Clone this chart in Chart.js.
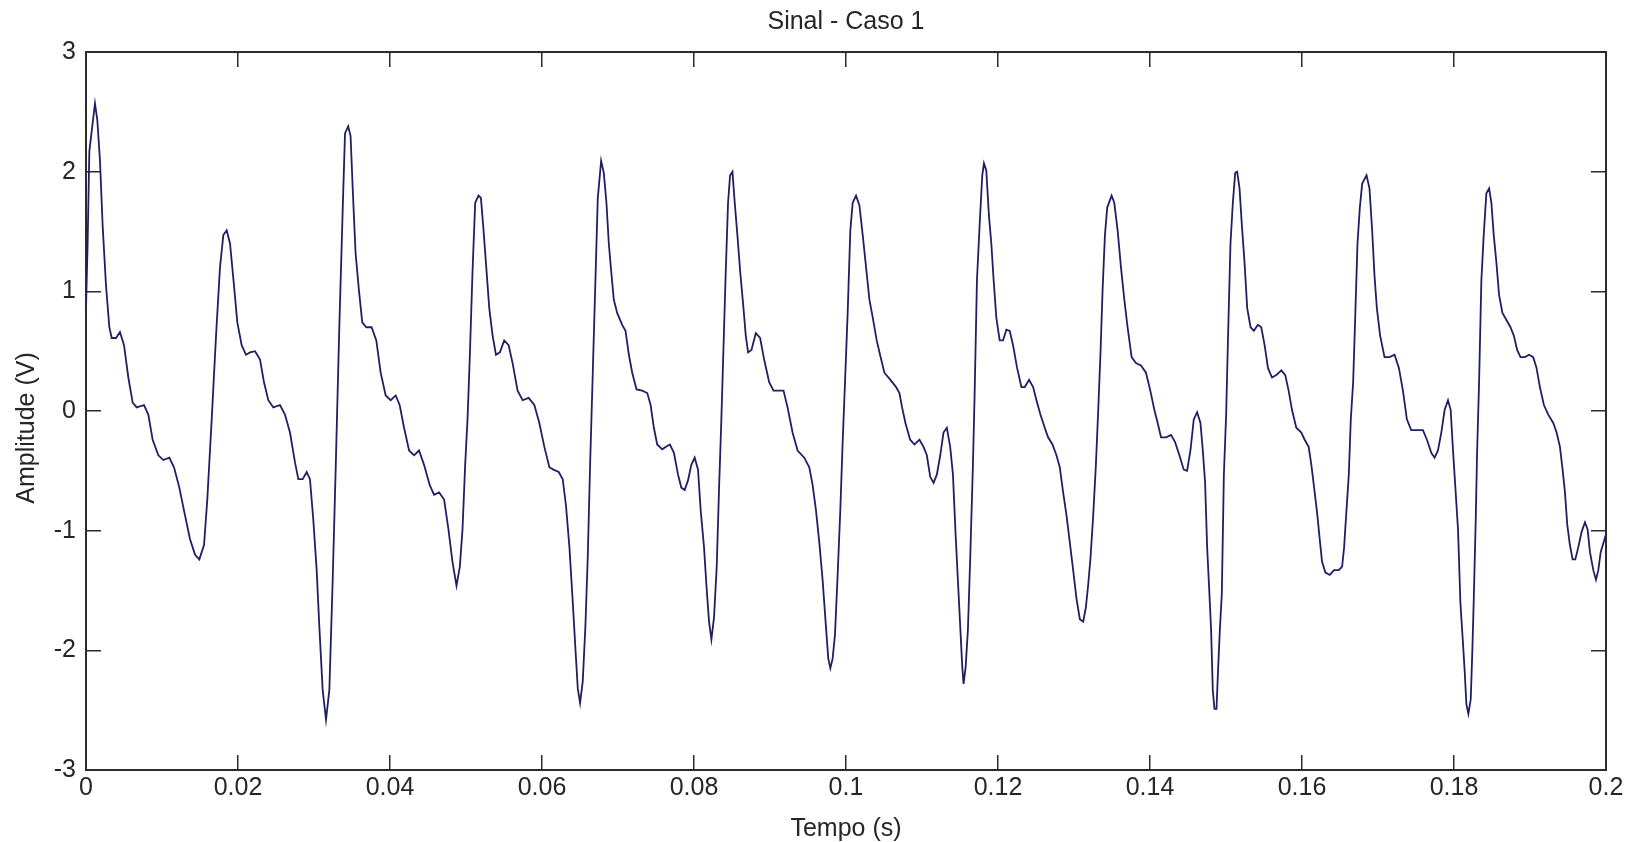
<!DOCTYPE html>
<html>
<head>
<meta charset="utf-8">
<title>Sinal - Caso 1</title>
<script src="https://cdn.jsdelivr.net/npm/chart.js@4.4.0/dist/chart.umd.min.js"></script>
<style>
  html, body { margin: 0; padding: 0; background: #fff; }
  canvas { display: block; }
</style>
</head>
<body>
<canvas id="grafico" width="1632" height="842"></canvas>
<script>
/* ================= DADOS ================= */
const titulo = "Sinal - Caso 1";
const rotuloX = "Tempo (s)";
const rotuloY = "Amplitude (V)";

const tempo = [
  0, 0.0002, 0.00044, 0.00118, 0.00149, 0.00184, 0.00219, 0.00263, 0.00307, 0.00338,
  0.00395, 0.00447, 0.005, 0.00557, 0.00614, 0.00667, 0.00763, 0.0082, 0.00877, 0.00952,
  0.01018, 0.01096, 0.01158, 0.01228, 0.01302, 0.01368, 0.01434, 0.01491, 0.01553, 0.01596,
  0.01654, 0.01711, 0.01763, 0.01807, 0.01851, 0.01895, 0.01947, 0.01991, 0.02048, 0.02105,
  0.02158, 0.02224, 0.0229, 0.02342, 0.02399, 0.02465, 0.02553, 0.02618, 0.02684, 0.0275,
  0.02794, 0.02851, 0.02904, 0.02947, 0.02991, 0.03035, 0.0307, 0.03114, 0.03158, 0.03202,
  0.03246, 0.0329, 0.03333, 0.03377, 0.03408,
  0.0345, 0.03481, 0.03512, 0.03547, 0.03591, 0.03635, 0.03688, 0.03758, 0.0382, 0.03877,
  0.03943, 0.04009, 0.04075, 0.04127, 0.04185, 0.04251, 0.04317, 0.04382, 0.04448, 0.04523,
  0.0458, 0.04646, 0.04712, 0.04769, 0.04822, 0.04875, 0.04919, 0.04954, 0.04989, 0.0502,
  0.05051, 0.05086, 0.05121, 0.05165, 0.05196, 0.05226, 0.05262, 0.05306, 0.0535, 0.05394,
  0.05446, 0.05503, 0.05561, 0.05613, 0.05679, 0.05745, 0.05824, 0.05899, 0.05965, 0.06031,
  0.06097, 0.0615, 0.0622, 0.06273, 0.06317, 0.06361, 0.06405, 0.0644, 0.06471, 0.06501,
  0.06536, 0.06571, 0.06602, 0.06633, 0.06668, 0.06703, 0.06734, 0.06778,
  0.06813, 0.06848, 0.06879, 0.0691, 0.06945, 0.06989, 0.07055, 0.07099, 0.07143, 0.07187,
  0.07244, 0.07319, 0.07385, 0.07429, 0.07472, 0.07516, 0.07582, 0.07626, 0.07683, 0.07736,
  0.07789, 0.07833, 0.07877, 0.07921, 0.07965, 0.08009, 0.08053, 0.08088, 0.08132, 0.08167,
  0.08198, 0.08229, 0.08264, 0.08299, 0.0833, 0.0836, 0.08387, 0.08418, 0.08448, 0.08475,
  0.08506, 0.08536, 0.08571, 0.08607, 0.08651, 0.08681, 0.08712, 0.08756, 0.08813, 0.0887,
  0.08923, 0.08989, 0.09046, 0.09108, 0.09178, 0.09231, 0.09297, 0.09363, 0.09451, 0.09517,
  0.09561, 0.09605, 0.09649, 0.09692, 0.09736, 0.09767, 0.09794, 0.09824, 0.09855, 0.0989,
  0.09925, 0.09956, 0.09987, 0.10022, 0.10057, 0.10088, 0.10132,
  0.10176, 0.1022, 0.10264, 0.10308, 0.10352, 0.10404, 0.10448, 0.10505, 0.10571, 0.10659,
  0.10703, 0.10738, 0.10782, 0.10844, 0.10901, 0.10967, 0.1102, 0.11064, 0.11108, 0.11152,
  0.11196, 0.1124, 0.11283, 0.11327, 0.11371, 0.11407, 0.11442, 0.11472, 0.11503, 0.1153,
  0.11547, 0.11574, 0.11604, 0.11635, 0.1167, 0.11692, 0.11723, 0.11758, 0.11793, 0.11815,
  0.11846, 0.11881, 0.11912, 0.11943, 0.11978, 0.12022, 0.12066, 0.1211, 0.12154, 0.12198,
  0.12251, 0.12308, 0.12352, 0.12409, 0.12462, 0.12506, 0.12558, 0.12615, 0.12659, 0.12717,
  0.12769, 0.12813, 0.12857, 0.12901, 0.12945, 0.12989, 0.13033, 0.13077, 0.13121, 0.13156,
  0.13187, 0.13218, 0.13253, 0.13288, 0.13319, 0.1335, 0.13376, 0.13407, 0.13437, 0.13495,
  0.1353, 0.13574, 0.13618, 0.13662, 0.13705, 0.13758, 0.13815, 0.13881, 0.13947, 0.14004,
  0.14057, 0.14101, 0.14145, 0.14211, 0.14277, 0.1433, 0.14387, 0.14444, 0.14488, 0.14532,
  0.14576, 0.1462, 0.14664, 0.14695, 0.14725, 0.14752, 0.14782, 0.14804, 0.14826, 0.14848,
  0.14875, 0.14892, 0.14919, 0.14945, 0.14972, 0.15002, 0.15024, 0.15059, 0.1509, 0.15121,
  0.15147, 0.15178, 0.15209, 0.15244, 0.15279, 0.15323, 0.15367, 0.1542, 0.15464, 0.15508,
  0.15552, 0.15605, 0.15662, 0.15728, 0.1578, 0.15824, 0.15868, 0.15925, 0.15991, 0.16035,
  0.16088, 0.16123, 0.16167, 0.16202, 0.16233, 0.16264, 0.16308, 0.16365, 0.16422, 0.16484,
  0.16528, 0.16554, 0.16585, 0.16616, 0.16642, 0.16673, 0.16704, 0.1673, 0.16761, 0.16792,
  0.16849,
  0.16888, 0.16923, 0.16954, 0.16985, 0.17028, 0.17086, 0.17152, 0.17218, 0.17275, 0.17328,
  0.1738, 0.17437, 0.17503, 0.17591, 0.17644, 0.17701, 0.17745, 0.17789, 0.17833, 0.17877,
  0.17921, 0.17956, 0.17987, 0.18022, 0.18053, 0.18084, 0.18119, 0.18141, 0.18163, 0.18189,
  0.1822, 0.18242, 0.18259, 0.18286, 0.18303, 0.1833, 0.1836, 0.18391, 0.18426, 0.18462,
  0.18492, 0.18523, 0.18558, 0.18593, 0.18637, 0.1869, 0.18743, 0.18787, 0.18831, 0.18875,
  0.18932, 0.18989, 0.19042, 0.19086, 0.1913, 0.19183, 0.1924, 0.19306, 0.1935, 0.19394,
  0.19429, 0.1946, 0.1949, 0.19525, 0.19561, 0.19596, 0.19635, 0.19679, 0.19723, 0.19758,
  0.19789, 0.19833, 0.19868, 0.19899, 0.1993, 0.2
];

const amplitude = [
  0.86, 1.36, 2.17, 2.57, 2.43, 2.09, 1.55, 1.05, 0.70, 0.61,
  0.61, 0.66, 0.55, 0.28, 0.07, 0.03, 0.05, -0.03, -0.24, -0.37,
  -0.41, -0.39, -0.47, -0.64, -0.87, -1.07, -1.2, -1.24, -1.12, -0.74,
  -0.07, 0.63, 1.20, 1.47, 1.51, 1.40, 1.05, 0.74, 0.55, 0.47,
  0.49, 0.50, 0.43, 0.24, 0.09, 0.03, 0.05, -0.03, -0.18, -0.43,
  -0.57, -0.57, -0.51, -0.57, -0.91, -1.33, -1.80, -2.33, -2.58, -2.33,
  -1.41, -0.37, 0.70, 1.67, 2.32,
  2.38, 2.30, 1.82, 1.32, 1.01, 0.74, 0.70, 0.70, 0.59, 0.32,
  0.13, 0.09, 0.13, 0.05, -0.14, -0.33, -0.37, -0.33, -0.45, -0.62,
  -0.70, -0.68, -0.74, -0.99, -1.26, -1.46, -1.30, -0.99, -0.45, -0.07,
  0.47, 1.17, 1.74, 1.80, 1.78, 1.55, 1.24, 0.86, 0.63, 0.47,
  0.49, 0.59, 0.55, 0.40, 0.17, 0.09, 0.11, 0.05, -0.10, -0.30,
  -0.47, -0.49, -0.51, -0.57, -0.80, -1.14, -1.60, -1.99, -2.32, -2.44,
  -2.26, -1.80, -1.22, -0.45, 0.32, 1.09, 1.78, 2.09,
  1.99, 1.74, 1.40, 1.17, 0.93, 0.82, 0.72, 0.67, 0.47, 0.32,
  0.18, 0.17, 0.15, 0.05, -0.14, -0.28, -0.32, -0.30, -0.28, -0.35,
  -0.53, -0.64, -0.66, -0.58, -0.45, -0.39, -0.49, -0.83, -1.14, -1.49,
  -1.76, -1.91, -1.72, -1.30, -0.64, -0.07, 0.51, 1.17, 1.74, 1.97,
  2.00, 1.74, 1.47, 1.17, 0.86, 0.63, 0.49, 0.51, 0.65, 0.61,
  0.43, 0.24, 0.17, 0.17, 0.17, 0.03, -0.18, -0.33, -0.39, -0.47,
  -0.62, -0.83, -1.10, -1.41, -1.80, -2.07, -2.15, -2.07, -1.87, -1.37,
  -0.83, -0.26, 0.24, 0.82, 1.51, 1.74, 1.80,
  1.72, 1.47, 1.20, 0.93, 0.78, 0.59, 0.47, 0.32, 0.27, 0.20,
  0.15, 0.03, -0.10, -0.24, -0.28, -0.24, -0.30, -0.37, -0.55, -0.60,
  -0.53, -0.37, -0.18, -0.14, -0.30, -0.53, -1.03, -1.41, -1.80, -2.14,
  -2.28, -2.14, -1.83, -1.22, -0.45, 0.13, 1.09, 1.55, 1.97, 2.07,
  2.01, 1.63, 1.40, 1.09, 0.78, 0.59, 0.59, 0.68, 0.67, 0.55,
  0.36, 0.20, 0.20, 0.26, 0.20, 0.09, -0.03, -0.14, -0.22, -0.28,
  -0.37, -0.47, -0.68, -0.87, -1.10, -1.33, -1.57, -1.74, -1.76, -1.64,
  -1.45, -1.22, -0.87, -0.45, 0.01, 0.51, 1.01, 1.47, 1.70, 1.80,
  1.74, 1.51, 1.20, 0.93, 0.70, 0.45, 0.40, 0.38, 0.32, 0.17,
  0.01, -0.10, -0.22, -0.22, -0.20, -0.26, -0.37, -0.49, -0.50, -0.33,
  -0.07, -0.01, -0.10, -0.33, -0.60, -1.14, -1.53, -1.83, -2.33, -2.49,
  -2.49, -2.22, -1.83, -1.53, -0.53, -0.03, 0.55, 1.40, 1.74, 1.99,
  2.00, 1.86, 1.55, 1.24, 0.86, 0.70, 0.67, 0.72, 0.70, 0.55,
  0.36, 0.28, 0.30, 0.34, 0.30, 0.17, 0.01, -0.14, -0.18, -0.24,
  -0.30, -0.45, -0.68, -0.87, -1.07, -1.26, -1.35, -1.37, -1.33, -1.33,
  -1.30, -1.14, -0.83, -0.53, -0.07, 0.24, 0.86, 1.40, 1.70, 1.90,
  1.97,
  1.86, 1.51, 1.13, 0.86, 0.63, 0.45, 0.45, 0.47, 0.36, 0.17,
  -0.07, -0.16, -0.16, -0.16, -0.24, -0.35, -0.39, -0.33, -0.18, 0.01,
  0.09, 0.01, -0.33, -0.68, -0.99, -1.60, -1.95, -2.18, -2.45, -2.53,
  -2.41, -1.99, -1.60, -0.91, -0.37, 0.24, 1.09, 1.47, 1.82, 1.86,
  1.74, 1.47, 1.24, 0.97, 0.82, 0.76, 0.70, 0.63, 0.51, 0.45,
  0.45, 0.47, 0.45, 0.36, 0.20, 0.05, -0.03, -0.10, -0.18, -0.30,
  -0.49, -0.68, -0.95, -1.12, -1.24, -1.24, -1.14, -1.01, -0.93, -0.99,
  -1.18, -1.33, -1.41, -1.33, -1.18, -1.03
];

const limitesX = [0, 0.2];
const passoX = 0.02;
const limitesY = [-3, 3];
const passoY = 1;

/* ================= ESTILO ================= */
const FONTE = { family: '"Liberation Sans", Arial, sans-serif', size: 25, weight: "normal", lineHeight: 1 };
const COR_TEXTO = "#262626";
const COR_EIXO = "#2b2b2b";
const COR_LINHA = "#1f1f63";

const fmt = v => String(+Number(v).toFixed(2));

const grade = { drawOnChartArea: false, tickLength: -15, color: COR_EIXO, lineWidth: 1.5 };
const borda = { color: COR_EIXO, width: 2 };

/* rotulo do eixo Y um pouco abaixo do centro, como no original */
const rotuloEixoY = {
  id: "rotuloEixoY",
  afterDraw(chart) {
    const ctx = chart.ctx;
    ctx.save();
    ctx.translate(27, 428);
    ctx.rotate(-Math.PI / 2);
    ctx.font = `${FONTE.size}px ${FONTE.family}`;
    ctx.fillStyle = COR_TEXTO;
    ctx.textAlign = "center";
    ctx.textBaseline = "middle";
    ctx.fillText(rotuloY, 0, 0);
    ctx.restore();
  }
};

/* ================= GRAFICO ================= */
new Chart(document.getElementById("grafico"), {
  type: "line",
  data: {
    datasets: [{
      data: tempo.map((t, i) => ({ x: t, y: amplitude[i] })),
      borderColor: COR_LINHA,
      borderWidth: 1.8,
      pointRadius: 0,
      tension: 0,
      fill: false
    }]
  },
  plugins: [rotuloEixoY],
  options: {
    responsive: false,
    animation: false,
    devicePixelRatio: 1,
    layout: { padding: { left: 0, right: 26, top: 0, bottom: 0 } },
    plugins: {
      legend: { display: false },
      tooltip: { enabled: false },
      title: {
        display: true,
        fullSize: false,
        text: titulo,
        color: COR_TEXTO,
        font: FONTE,
        padding: { top: 10, bottom: 17 }
      }
    },
    scales: {
      x: {
        type: "linear",
        position: "bottom",
        min: limitesX[0],
        max: limitesX[1],
        ticks: { stepSize: passoX, callback: fmt, font: FONTE, color: COR_TEXTO, padding: 21, maxRotation: 0, autoSkip: false },
        grid: grade,
        border: borda,
        title: { display: true, text: rotuloX, font: FONTE, color: COR_TEXTO, padding: 0 },
        afterFit: s => { s.height = 72; s.paddingLeft = 0; s.paddingRight = 0; }
      },
      xTopo: {
        type: "linear",
        position: "top",
        min: limitesX[0],
        max: limitesX[1],
        ticks: { stepSize: passoX, display: false },
        grid: grade,
        border: borda,
        afterFit: s => { s.height = 0; }
      },
      y: {
        type: "linear",
        position: "left",
        min: limitesY[0],
        max: limitesY[1],
        ticks: { stepSize: passoY, callback: fmt, font: FONTE, color: COR_TEXTO, padding: 25 },
        grid: grade,
        border: borda,
        afterFit: s => { s.width = 86; }
      },
      yDireita: {
        type: "linear",
        position: "right",
        min: limitesY[0],
        max: limitesY[1],
        ticks: { stepSize: passoY, display: false },
        grid: grade,
        border: borda,
        afterFit: s => { s.width = 0; }
      }
    }
  }
});
</script>
</body>
</html>
